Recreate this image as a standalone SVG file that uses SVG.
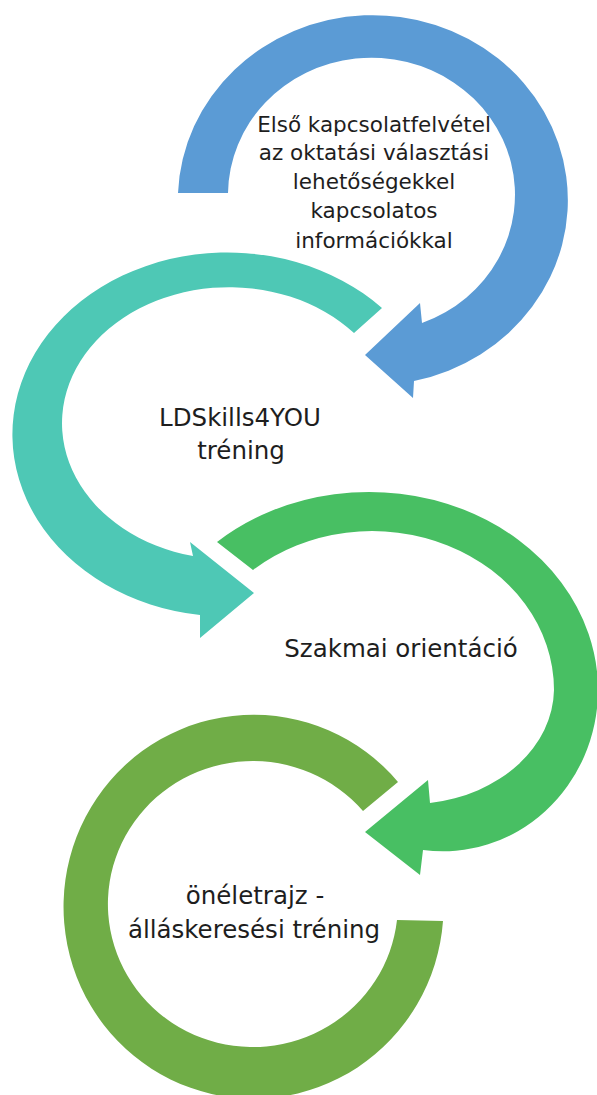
<svg xmlns="http://www.w3.org/2000/svg" width="597" height="1095" viewBox="0 0 597 1095">
  <style>
    .lbl { font-family: "DejaVu Sans", "Liberation Sans", sans-serif; fill: #1e1e1e; text-anchor: middle; }
    .s1 { font-size: 21.5px; }
    .s2 { font-size: 24.5px; }
    .blue { fill: #5B9BD5; }
    .teal { fill: #4EC8B5; }
    .green { fill: #48BF63; }
    .olive { fill: #70AD47; }
  </style>
  <rect width="597" height="1095" fill="#ffffff"/>

  <g id="node-olive">
    <path class="olive" d="M 398 782 A 190 192 0 1 0 443 921 L 397 920 A 145 143 0 1 1 363 811 Z"/>
    <text class="lbl s2" x="255" y="904">önéletrajz -</text>
    <text class="lbl s2" x="254" y="938">álláskeresési tréning</text>
  </g>

  <g id="node-green">
    <path class="green" d="M 217 542 A 228.9 198 0 0 1 598 690 A 155 161.5 0 0 1 423 850 L 420 875 L 365 832 L 428 780 L 430 803 A 145 116 0 0 0 554 690 A 181.8 159 0 0 0 253 570 Z"/>
    <text class="lbl s2" x="401" y="657">Szakmai orientáció</text>
  </g>

  <g id="node-teal">
    <path class="teal" d="M 382 308 A 215 182 0 1 0 200 615 L 200 638 L 254 593 L 190 542 L 193 556 A 167 136 0 1 1 354 333 Z"/>
    <text class="lbl s2" x="240" y="426">LDSkills4YOU</text>
    <text class="lbl s2" x="241" y="459">tréning</text>
  </g>

  <g id="node-blue">
    <path class="blue" d="M 178 193 A 195 185 0 1 1 414 381 L 413 398 L 365 355 L 420 303 L 422 323 A 143.5 137 0 1 0 228 193 Z"/>
    <text class="lbl s1" x="374" y="132">Első kapcsolatfelvétel</text>
    <text class="lbl s1" x="374" y="160">az oktatási választási</text>
    <text class="lbl s1" x="374" y="189">lehetőségekkel</text>
    <text class="lbl s1" x="374" y="218">kapcsolatos</text>
    <text class="lbl s1" x="374" y="248">információkkal</text>
  </g>

  <g id="connectors"></g>
</svg>
